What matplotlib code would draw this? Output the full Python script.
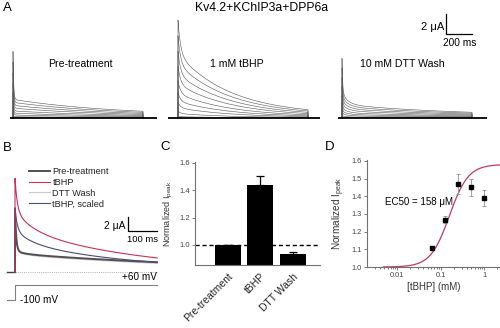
import numpy as np
import matplotlib
matplotlib.use("Agg")
import matplotlib.pyplot as plt

plt.rcParams["font.family"] = ["Liberation Sans", "DejaVu Sans"]
plt.rcParams["mathtext.fontset"] = "custom"
plt.rcParams["mathtext.rm"] = "Liberation Sans"

W, H = 500, 328
fig = plt.figure(figsize=(W / 100, H / 100), dpi=100)

# ---------------- data ----------------
# Panel A: inactivation kinetics per condition (amplitudes in uA, time constants in ms)
a_conditions = ["Pre-treatment", "1 mM tBHP", "10 mM DTT Wash"]
a_fast_amp = [4.8, 3.4, 3.4]
a_fast_tau = [4.9, 19.6, 5.0]
a_mid_amp = [0.0, 0.0, 1.2]
a_mid_tau = [30.0, 30.0, 44.0]
a_slow_amp = [1.66, 6.1, 1.17]
a_slow_tau = [795.0, 410.0, 870.0]
a_steady = [0.2, 0.3, 0.2]
a_sweep_scale = [1.0, 0.84, 0.68, 0.53, 0.38, 0.26, 0.16, 0.07, 0.02]
a_pulse_ms = 1000.0
a_record_ms = [(-25, 1110), (-80, 1090), (-30, 1115)]

# Panel B: +60 mV currents (uA, ms)
b_labels = ["Pre-treatment", "tBHP", "DTT Wash"]
b_fast_amp = [6.06, 4.6, 5.8]
b_fast_tau = [4.0, 7.7, 4.0]
b_mid_amp = [0.4, 2.5, 0.45]
b_mid_tau = [30.0, 60.0, 30.0]
b_slow_amp = [2.64, 6.28, 2.5]
b_slow_tau = [770.0, 430.0, 700.0]
b_pulse_ms = 490.0
b_hold_mv, b_step_mv = -100, 60
b_prepulse_ms = -28.0

# Panel C: normalized peak current
c_labels = ["Pre-treatment", "tBHP", "DTT Wash"]
c_means = [1.0, 1.44, 0.935]
c_sem = [0.0, 0.065, 0.012]

# Panel D: concentration dependence
d_conc = [0.0625, 0.125, 0.25, 0.5, 1.0]
d_mean = [1.107, 1.266, 1.47, 1.45, 1.39]
d_sem = [0.008, 0.02, 0.055, 0.05, 0.045]
ec50_mM = 0.158
hill_n = 2.0
fit_bottom, fit_top = 1.0, 1.58


# ---------------- helpers ----------------
def px_axes(left, top, right, bottom, x0, y0, sx, sy):
    """Axes covering a pixel box; data origin at pixel (x0, y0), sx/sy pixels per unit."""
    ax = fig.add_axes([left / W, 1 - bottom / H, (right - left) / W, (bottom - top) / H])
    ax.set_xlim((left - x0) / sx, (right - x0) / sx)
    ax.set_ylim((y0 - bottom) / sy, (y0 - top) / sy)
    ax.set_axis_off()
    ax.patch.set_visible(False)
    return ax


def txt(x, y, s, **kw):
    kw.setdefault("ha", "center")
    kw.setdefault("va", "center")
    fig.text(x / W, 1 - y / H, s, **kw)


def current(t, af, tf, am, tm, a_s, ts, ss=0.0):
    return af * np.exp(-t / tf) + am * np.exp(-t / tm) + a_s * np.exp(-t / ts) + ss


# ---------------- panel A ----------------
t_a = np.concatenate([np.linspace(0, 60, 400), np.linspace(60, a_pulse_ms, 600)[1:]])
a_origins = [(13, 118), (178, 118), (342, 118)]
a_boxes = [(5, 165), (165, 330), (330, 495)]
a_axes = []
for i, (ox, oy) in enumerate(a_origins):
    ax = px_axes(a_boxes[i][0], 4, a_boxes[i][1], 126, ox, oy, 0.13, 10.0)
    a_axes.append(ax)
    for s in a_sweep_scale:
        y = s * current(t_a, a_fast_amp[i], a_fast_tau[i], a_mid_amp[i], a_mid_tau[i],
                        a_slow_amp[i], a_slow_tau[i], a_steady[i])
        tt = np.concatenate([[0], t_a, [a_pulse_ms]])
        yy = np.concatenate([[0], y, [0]])
        ax.plot(tt, yy, color="#5a5a5a", lw=0.42)
    ax.plot(a_record_ms[i], [0, 0], color="black", lw=1.3, solid_capstyle="butt")

# scale bar: 2 uA / 200 ms
a_axes[2].plot([800, 800, 1000], [10.4, 8.4, 8.4], color="black", lw=0.9)
txt(444, 27, "2 \u03bcA", ha="right", fontsize=8)
txt(443, 43, "200 ms", ha="left", fontsize=7.3)

txt(80, 64, a_conditions[0], fontsize=7.6)
txt(237, 64, a_conditions[1], fontsize=7.6)
txt(402, 64, a_conditions[2], fontsize=7.6)
txt(262, 8, "Kv4.2+KChIP3a+DPP6a", fontsize=8.8)

# ---------------- panel B ----------------
axB = px_axes(2, 160, 162, 276, 15, 272, 0.29, 7.0)
t_b = np.concatenate([np.linspace(0, 60, 400), np.linspace(60, b_pulse_ms, 500)[1:]])
b_colors = ["#505050", "#c8305a", "#d2c4cc"]
b_lw = [1.4, 0.8, 0.8]
traces = []
for i in range(3):
    y = current(t_b, b_fast_amp[i], b_fast_tau[i], b_mid_amp[i], b_mid_tau[i],
                b_slow_amp[i], b_slow_tau[i])
    traces.append(np.concatenate([[0], y]))
tb = np.concatenate([[0], t_b])
scaled = traces[1] * (traces[0].max() / traces[1].max())

axB.plot([b_prepulse_ms, 0], [0, 0], color="#404040", lw=1.0)
axB.plot([0, b_pulse_ms], [0, 0], color="#b0b0b0", lw=0.7, ls=(0, (1, 1.2)))
h_dtt, = axB.plot(tb, traces[2], color=b_colors[2], lw=b_lw[2], label=b_labels[2])
h_pre, = axB.plot(tb, traces[0], color=b_colors[0], lw=b_lw[0], label=b_labels[0])
h_sc, = axB.plot(tb, scaled, color="#4b4b78", lw=0.8, label="tBHP, scaled")
h_tb, = axB.plot(tb, traces[1], color=b_colors[1], lw=b_lw[1], label=b_labels[1])

# scale bar: 2 uA / 100 ms
axB.plot([390, 390, 490], [7.86, 5.86, 5.86], color="black", lw=0.9)
txt(125, 226, "2 \u03bcA", ha="right", fontsize=7.4)
txt(127, 240, "100 ms", ha="left", fontsize=6.8)

leg = fig.legend(handles=[h_pre, h_tb, h_dtt, h_sc], loc="upper left",
                 bbox_to_anchor=(29 / W, 1 - 167 / H), frameon=False, fontsize=6.6,
                 handlelength=2.3, handletextpad=0.25, labelspacing=0.2,
                 borderpad=0, borderaxespad=0)
for t in leg.get_texts():
    t.set_color("#222222")

# voltage protocol
axV = px_axes(2, 276, 162, 306, 15, 285 + 60 * 15 / 160, 0.29, 15 / 160)
axV.plot([b_prepulse_ms, 0, 0, b_pulse_ms], [b_hold_mv, b_hold_mv, b_step_mv, b_step_mv],
         color="#808080", lw=0.8)
txt(157, 277, "+60 mV", ha="right", fontsize=7.2)
txt(20, 300, "-100 mV", ha="left", fontsize=7.2)

# ---------------- panel C ----------------
axC = fig.add_axes([195 / W, 1 - 264.8 / H, 125 / W, (264.8 - 162.3) / H])
xc = np.arange(len(c_labels))
axC.bar(xc, c_means, width=0.8, color="black")
axC.errorbar(xc, c_means, yerr=[np.zeros(3), c_sem], fmt="none", ecolor="black",
             elinewidth=0.9, capsize=3, capthick=0.9)
axC.axhline(1.0, color="black", lw=1.0, ls=(0, (3, 2)))
axC.set_xlim(-1.0, 2.846)
axC.set_ylim(0.855, 1.605)
axC.set_yticks([1.0, 1.2, 1.4, 1.6])
axC.set_yticklabels(["1.0", "1.2", "1.4", "1.6"], fontsize=5.5, color="#444444")
axC.set_xticks(xc)
axC.set_xticklabels(c_labels, rotation=45, ha="right", va="top", rotation_mode="anchor",
                    fontsize=7.5, color="#222222")
axC.tick_params(axis="y", direction="out", length=2, width=0.6, color="#666666", pad=1.5)
axC.tick_params(axis="x", length=0, pad=5)
for s in ["top", "right"]:
    axC.spines[s].set_visible(False)
for s in ["left", "bottom"]:
    axC.spines[s].set_color("#707070")
    axC.spines[s].set_linewidth(0.8)
axC.set_ylabel("Normalized I$_\\mathregular{peak}$", fontsize=6.5, color="#333333", labelpad=3)
axC.patch.set_visible(False)

# ---------------- panel D ----------------
axD = fig.add_axes([367 / W, 1 - 267 / H, 133 / W, (267 - 160) / H])
axD.set_xscale("log")
xfit = np.logspace(np.log10(0.0048), np.log10(2.3), 300)
yfit = fit_bottom + (fit_top - fit_bottom) / (1 + (ec50_mM / xfit) ** hill_n)
axD.plot(xfit, yfit, color="#c43862", lw=0.9)
axD.errorbar(d_conc, d_mean, yerr=d_sem, fmt="s", color="black", ms=3.2,
             ecolor="#909090", elinewidth=0.6, capsize=1.5, capthick=0.6)
axD.set_xlim(0.00201, 2.30)
axD.set_ylim(1.0, 1.605)
axD.set_yticks([1.0, 1.1, 1.2, 1.3, 1.4, 1.5, 1.6])
axD.set_yticklabels(["1.0", "1.1", "1.2", "1.3", "1.4", "1.5", "1.6"], fontsize=5.3,
                    color="#444444")
axD.set_xticks([0.01, 0.1, 1])
axD.set_xticklabels(["0.01", "0.1", "1"], fontsize=5.3, color="#444444")
axD.tick_params(which="both", direction="out", color="#666666", width=0.6)
axD.tick_params(which="major", length=2.2, pad=1.5)
axD.tick_params(which="minor", length=1.2)
for s in ["top", "right"]:
    axD.spines[s].set_visible(False)
for s in ["left", "bottom"]:
    axD.spines[s].set_color("#707070")
    axD.spines[s].set_linewidth(0.8)
axD.set_ylabel("Normalized I$_\\mathregular{peak}$", fontsize=7.2, color="#333333", labelpad=3)
axD.set_xlabel("[tBHP] (mM)", fontsize=7, color="#333333", labelpad=2)
axD.text(0.0052, 1.365, "EC50 = 158 \u03bcM", fontsize=7, va="center", ha="left")
axD.patch.set_visible(False)

# panel letters
txt(7, 8, "A", fontsize=9.5)
txt(7, 148, "B", fontsize=9.5)
txt(165, 147, "C", fontsize=9.5)
txt(330, 147, "D", fontsize=9.5)

fig.savefig("out.png", dpi=100)
